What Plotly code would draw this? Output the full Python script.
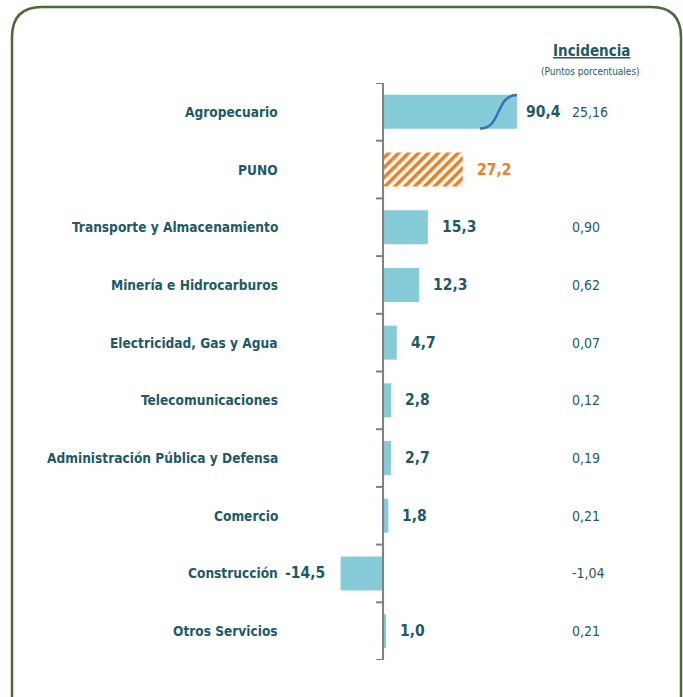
import plotly.graph_objects as go

# Sector growth (%) and incidence (percentage points)
categories = ["Agropecuario", "PUNO", "Transporte y Almacenamiento",
              "Minería e Hidrocarburos", "Electricidad, Gas y Agua",
              "Telecomunicaciones", "Administración Pública y Defensa",
              "Comercio", "Construcción", "Otros Servicios"]
growth = [90.4, 27.2, 15.3, 12.3, 4.7, 2.8, 2.7, 1.8, -14.5, 1.0]
incidence = ["25,16", "", "0,90", "0,62", "0,07", "0,12", "0,19", "0,21", "-1,04", "0,21"]
total_label = "PUNO"

W, H = 683, 697
FONT = "DejaVu Sans Condensed"
TEXT = "#1d5a67"
BAR = "#86ccd8"
ORANGE = "#ef7d22"
GRAY = "#808080"

# broken axis: long bars are clipped at the right edge of the plot area
x_min, x_max = -18.1, 45.7
px_left, px_right = 330, 517
y_top, y_bot = 83, 660

sector_idx = [i for i, c in enumerate(categories) if c != total_label]
total_idx = [i for i, c in enumerate(categories) if c == total_label]

fig = go.Figure()
fig.add_trace(go.Bar(
    x=[growth[i] for i in sector_idx], y=sector_idx, orientation="h",
    marker=dict(color=BAR, line=dict(width=0)),
    width=0.59, hoverinfo="skip",
))
fig.add_trace(go.Bar(
    x=[growth[i] for i in total_idx], y=total_idx, orientation="h",
    marker=dict(color="white", line=dict(width=0),
                pattern=dict(shape="/", fgcolor=ORANGE, bgcolor="white",
                             fgopacity=1, size=7, solidity=0.5, fillmode="replace")),
    width=0.59, hoverinfo="skip",
))

ann = []
shapes = []
for i, (c, v, inc) in enumerate(zip(categories, growth, incidence)):
    col = ORANGE if c == total_label else TEXT
    ann.append(dict(xref="paper", yref="y", x=280 / W, y=i, text=f"<b>{c}</b>",
                    xanchor="right", showarrow=False,
                    font=dict(family=FONT, size=13.6, color=TEXT)))
    lab = f"<b>{v:.1f}</b>".replace(".", ",")
    if v >= 0:
        clipped = v > x_max
        ann.append(dict(xref="x", yref="y", x=min(v, x_max), y=i, text=lab,
                        xanchor="left", xshift=7 if clipped else 12, showarrow=False,
                        font=dict(family=FONT, size=15.5, color=col)))
    else:
        ann.append(dict(xref="x", yref="y", x=v, y=i, text=lab,
                        xanchor="right", xshift=-14, showarrow=False,
                        font=dict(family=FONT, size=15.5, color=col)))
    if inc:
        ann.append(dict(xref="paper", yref="y", x=570 / W, y=i, text=inc,
                        xanchor="left", showarrow=False,
                        font=dict(family=FONT, size=14, color=TEXT)))

# incidence column header
ann.append(dict(xref="paper", yref="paper", x=591 / W, y=1 - 51 / H,
                xanchor="center", yanchor="middle",
                text="<b><u>Incidencia</u></b>", showarrow=False,
                font=dict(family=FONT, size=15, color=TEXT)))
ann.append(dict(xref="paper", yref="paper", x=590 / W, y=1 - 72 / H,
                xanchor="center", yanchor="middle",
                text="(Puntos porcentuales)", showarrow=False,
                font=dict(family=FONT, size=10, color=TEXT)))

# vertical zero line with ticks at category boundaries
shapes.append(dict(type="line", xref="x", yref="y", x0=0, x1=0, y0=-0.5, y1=9.5,
                   line=dict(color=GRAY, width=2)))
tick_len = 7 / ((px_right - px_left) / (x_max - x_min))
for b in range(len(categories) + 1):
    shapes.append(dict(type="line", xref="x", yref="y", x0=-tick_len, x1=0,
                       y0=b - 0.5, y1=b - 0.5, line=dict(color=GRAY, width=2)))

# break mark on the clipped bar
x0b, x1b = x_max - 37 / 2.93, x_max
shapes.append(dict(type="path", xref="x", yref="y",
                   path=f"M {x0b:.2f},0.29 C {x_max - 15/2.93:.2f},0.29 "
                        f"{x_max - 22/2.93:.2f},-0.29 {x1b:.2f},-0.29",
                   line=dict(color="#3b6fbd", width=2.5)))

# rounded frame
r = 30
L, T, R, B = 12 / W, 1 - 7 / H, 681 / W, -0.2
shapes.append(dict(type="path", xref="paper", yref="paper", layer="below",
                   path=(f"M {L},{B} L {L},{T - r / H} Q {L},{T} {L + r / W},{T} "
                         f"L {R - r / W},{T} Q {R},{T} {R},{T - r / H} L {R},{B}"),
                   line=dict(color="#4a6a3a", width=2.5)))

fig.update_layout(
    width=W, height=H, margin=dict(l=0, r=0, t=0, b=0),
    paper_bgcolor="white", plot_bgcolor="rgba(0,0,0,0)",
    showlegend=False, annotations=ann, shapes=shapes, barmode="overlay",
    xaxis=dict(range=[x_min, x_max], domain=[px_left / W, px_right / W],
               visible=False, fixedrange=True),
    yaxis=dict(range=[9.5, -0.5], domain=[1 - y_bot / H, 1 - y_top / H],
               visible=False, fixedrange=True),
)

fig.write_html("out.html")
